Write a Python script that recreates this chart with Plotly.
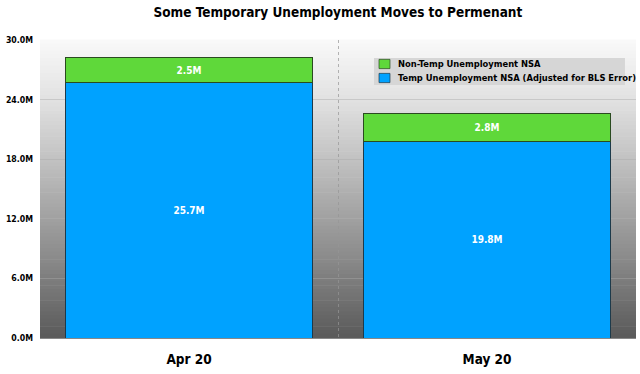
import numpy as np
import plotly.graph_objects as go

categories = ["Apr 20", "May 20"]
series_names = ["Temp Unemployment NSA (Adjusted for BLS Error)", "Non-Temp Unemployment NSA"]
temp_unemp = [25.7, 19.8]
nontemp_unemp = [2.5, 2.8]
y_ticks = [0, 6, 12, 18, 24, 30]
y_tick_labels = ["0.0M", "6.0M", "12.0M", "18.0M", "24.0M", "30.0M"]

FONT = "DejaVu Sans Condensed, Liberation Sans Narrow, Arial Narrow, sans-serif"
BLUE = "#00a2ff"
GREEN = "#5fd83a"

fig = go.Figure()
fig.add_trace(go.Bar(
    x=categories, y=temp_unemp, name=series_names[0],
    marker=dict(color=BLUE, line=dict(color="#1d3a4a", width=1)),
    text=[f"{v}M" for v in temp_unemp], textposition="inside",
    insidetextanchor="middle",
    textfont=dict(color="white", size=10, family=FONT, weight="bold"),
    constraintext="none",
))
fig.add_trace(go.Bar(
    x=categories, y=nontemp_unemp, name=series_names[1],
    marker=dict(color=GREEN, line=dict(color="#2a4a20", width=1)),
    text=[f"{v}M" for v in nontemp_unemp], textposition="inside",
    insidetextanchor="middle",
    textfont=dict(color="white", size=10, family=FONT, weight="bold"),
    constraintext="none",
))

# vertical gradient background
anchors_t = [0.0, 0.2, 0.5, 0.75, 1.0]
anchors_c = [250, 226, 178, 136, 90]
n = 80
shapes = []
for i in range(n):
    t = (i + 0.5) / n
    c = int(np.interp(t, anchors_t, anchors_c))
    shapes.append(dict(type="rect", xref="paper", yref="paper",
                       x0=0, x1=1, y0=1 - (i + 1) / n, y1=1 - i / n + 0.002,
                       fillcolor=f"rgb({c},{c},{c})", line=dict(width=0),
                       layer="below"))

# legend box (drawn manually to match compact reference legend)
shapes.append(dict(type="rect", xref="paper", yref="paper",
                   x0=0.5604, x1=0.9815, y0=0.849, y1=0.9396,
                   fillcolor="#d6d6d6", line=dict(width=0), layer="above"))
legend_items = [(series_names[1], GREEN, "#2a4a20", 0.9195),
                (series_names[0], BLUE, "#1d3a4a", 0.8725)]
annotations = []
for name, col, edge, yc in legend_items:
    shapes.append(dict(type="rect", xref="paper", yref="paper",
                       x0=0.5688, x1=0.5872, y0=yc - 0.0155, y1=yc + 0.0155,
                       fillcolor=col, line=dict(color=edge, width=0.7), layer="above"))
    annotations.append(dict(xref="paper", yref="paper", x=0.597, y=yc,
                            xanchor="left", yanchor="middle", showarrow=False,
                            text=name,
                            font=dict(family=FONT, size=9.3, color="black", weight="bold")))

fig.update_layout(shapes=shapes, annotations=annotations)

fig.update_layout(
    width=640, height=374,
    margin=dict(l=40, r=4, t=40, b=36, autoexpand=False),
    barmode="stack", bargap=0.168,
    paper_bgcolor="white", plot_bgcolor="rgba(0,0,0,0)",
    title=dict(text="Some Temporary Unemployment Moves to Permenant",
               x=0.528, xanchor="center", y=0.9666, yanchor="middle",
               font=dict(family=FONT, size=13.5, color="black", weight="bold")),
    font=dict(family=FONT, color="black"),
    showlegend=False,
    hovermode=False,
)
fig.update_xaxes(
    type="category", tickson="boundaries", showgrid=True,
    gridcolor="rgba(150,150,150,0.7)", griddash="dot", gridwidth=1,
    ticks="", tickfont=dict(family=FONT, size=13.5, color="black", weight="bold"),
    ticklabelstandoff=9, automargin=False,
    showline=True, linecolor="#888888", linewidth=1,
)
fig.update_yaxes(
    range=[0, 30], tickvals=y_ticks, ticktext=y_tick_labels,
    showgrid=True, gridcolor="rgba(170,170,170,0.45)", gridwidth=1,
    zeroline=False, ticks="", automargin=False,
    tickfont=dict(family=FONT, size=8.7, color="black", weight="bold"),
    ticklabelstandoff=6,
)

fig.write_html("out.html", config={"displayModeBar": False, "staticPlot": True},
               post_script="document.body.style.margin='0px';")
